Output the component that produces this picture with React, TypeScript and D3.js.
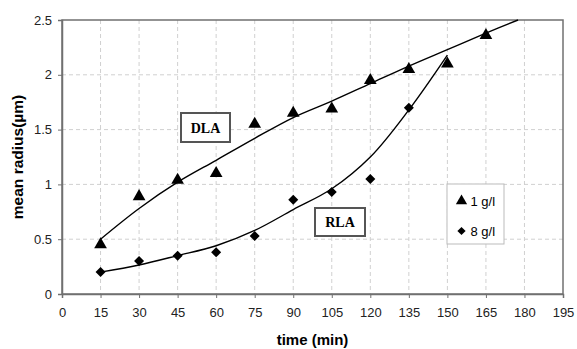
import React, { useEffect, useRef } from 'react';
import * as d3 from 'd3';

// measured points
const times = [15, 30, 45, 60, 75, 90, 105, 120, 135, 150, 165];
const low = [0.45, 0.89, 1.04, 1.1, 1.55, 1.65, 1.69, 1.95, 2.05, 2.1, 2.36]; // 1 g/l
const highTimes = [15, 30, 45, 60, 75, 90, 105, 120, 135];
const high = [0.2, 0.3, 0.35, 0.38, 0.53, 0.86, 0.93, 1.05, 1.7]; // 8 g/l

// fitted curves
const dlaTimes = [15, 30, 45, 60, 75, 90, 105, 120, 135, 150, 165, 177.5];
const dlaValues = [0.5, 0.78, 1.02, 1.22, 1.42, 1.61, 1.76, 1.92, 2.08, 2.23, 2.38, 2.5];
const rlaTimes = [15, 30, 45, 60, 75, 90, 105, 120, 135, 150];
const rlaValues = [0.2, 0.265, 0.35, 0.44, 0.58, 0.77, 0.96, 1.25, 1.68, 2.18];

const xTicks = d3.range(0, 196, 15);
const yTicks = [0, 0.5, 1, 1.5, 2, 2.5];
const legendLabels = ['1 g/l', '8 g/l'];

const App: React.FC = () => {
  const svgRef = useRef<SVGSVGElement>(null);

  useEffect(() => {
    if (!svgRef.current) return;
    const svg = d3.select(svgRef.current);
    svg.selectAll('*').remove();

    const left = 62;
    const right = 563;
    const top = 20;
    const bottom = 294;

    const x = d3.scaleLinear().domain([0, 195]).range([left, right]);
    const y = d3.scaleLinear().domain([0, 2.5]).range([bottom, top]);

    const font = 'Liberation Sans, Arial, sans-serif';

    // grid
    svg.append('g')
      .selectAll('line')
      .data(xTicks.slice(1, -1))
      .enter()
      .append('line')
      .attr('x1', (d) => x(d))
      .attr('x2', (d) => x(d))
      .attr('y1', top)
      .attr('y2', bottom)
      .attr('stroke', '#d0d0d0')
      .attr('stroke-dasharray', '4,3');

    svg.append('g')
      .selectAll('line')
      .data(yTicks.slice(1, -1))
      .enter()
      .append('line')
      .attr('x1', left)
      .attr('x2', right)
      .attr('y1', (d) => y(d))
      .attr('y2', (d) => y(d))
      .attr('stroke', '#d0d0d0')
      .attr('stroke-dasharray', '4,3');

    // frame
    svg.append('rect')
      .attr('x', left)
      .attr('y', top)
      .attr('width', right - left)
      .attr('height', bottom - top)
      .attr('fill', 'none')
      .attr('stroke', '#707070')
      .attr('stroke-width', 1.5);

    // axes
    const xAxis = svg.append('g')
      .attr('transform', `translate(0,${bottom})`)
      .call(d3.axisBottom(x).tickValues(xTicks).tickSize(4).tickPadding(10).tickFormat(d3.format('d')));
    const yAxis = svg.append('g')
      .attr('transform', `translate(${left},0)`)
      .call(d3.axisLeft(y).tickValues(yTicks).tickSize(4).tickPadding(6).tickFormat((d) => String(d)));

    [xAxis, yAxis].forEach((a) => {
      a.select('.domain').attr('stroke', '#707070').attr('stroke-width', 1.5);
      a.selectAll('.tick line').attr('stroke', '#707070');
      a.selectAll('.tick text')
        .attr('font-family', font)
        .attr('font-size', '13px')
        .attr('fill', '#222');
    });

    // fitted curves
    const line = d3.line<[number, number]>()
      .x((d) => x(d[0]))
      .y((d) => y(d[1]))
      .curve(d3.curveCatmullRom.alpha(0.5));

    svg.append('path')
      .attr('d', line(dlaTimes.map((t, i) => [t, dlaValues[i]] as [number, number])) || '')
      .attr('fill', 'none')
      .attr('stroke', '#000')
      .attr('stroke-width', 1.4);

    svg.append('path')
      .attr('d', line(rlaTimes.map((t, i) => [t, rlaValues[i]] as [number, number])) || '')
      .attr('fill', 'none')
      .attr('stroke', '#000')
      .attr('stroke-width', 1.4);

    // markers
    const tri = d3.symbol().type(d3.symbolTriangle).size(70);
    const dia = d3.symbol().type(d3.symbolSquare).size(50);

    svg.append('g')
      .selectAll('path')
      .data(times)
      .enter()
      .append('path')
      .attr('d', tri() || '')
      .attr('transform', (d, i) => `translate(${x(d)},${y(low[i])})`)
      .attr('fill', '#000');

    svg.append('g')
      .selectAll('path')
      .data(highTimes)
      .enter()
      .append('path')
      .attr('d', dia() || '')
      .attr('transform', (d, i) => `translate(${x(d)},${y(high[i])}) rotate(45)`)
      .attr('fill', '#000');

    // labels on curves
    const labelBox = (x0: number, y0: number, w: number, h: number, text: string) => {
      svg.append('rect')
        .attr('x', x0)
        .attr('y', y0)
        .attr('width', w)
        .attr('height', h)
        .attr('fill', '#fff')
        .attr('stroke', '#555')
        .attr('stroke-width', 2);
      svg.append('text')
        .attr('x', x0 + w / 2)
        .attr('y', y0 + h / 2 + 5)
        .attr('text-anchor', 'middle')
        .attr('font-family', 'Liberation Serif, Times New Roman, serif')
        .attr('font-weight', 'bold')
        .attr('font-size', '14px')
        .attr('fill', '#000')
        .text(text);
    };
    labelBox(181, 113, 49, 29, 'DLA');
    labelBox(315, 208, 50, 28, 'RLA');

    // legend
    const legend = svg.append('g').attr('transform', 'translate(447,184)');
    legend.append('rect')
      .attr('width', 57)
      .attr('height', 60)
      .attr('fill', '#fff')
      .attr('stroke', '#bbb');
    legendLabels.forEach((label, i) => {
      const row = legend.append('g').attr('transform', `translate(0,${17 + i * 30})`);
      row.append('path')
        .attr('d', i === 0
          ? d3.symbol().type(d3.symbolTriangle).size(55)() || ''
          : d3.symbol().type(d3.symbolSquare).size(34)() || '')
        .attr('transform', i === 0 ? 'translate(14.5,0)' : 'translate(14.5,0) rotate(45)')
        .attr('fill', '#000');
      row.append('text')
        .attr('x', 23.5)
        .attr('y', 5)
        .attr('font-family', font)
        .attr('font-size', '13px')
        .attr('fill', '#000')
        .text(label);
    });

    // axis titles
    svg.append('text')
      .attr('x', (left + right) / 2)
      .attr('y', 345)
      .attr('text-anchor', 'middle')
      .attr('font-family', font)
      .attr('font-weight', 'bold')
      .attr('font-size', '15px')
      .attr('fill', '#000')
      .text('time (min)');

    svg.append('text')
      .attr('transform', `translate(23,157) rotate(-90)`)
      .attr('text-anchor', 'middle')
      .attr('font-family', font)
      .attr('font-weight', 'bold')
      .attr('font-size', '15.5px')
      .attr('fill', '#000')
      .text('mean radius(µm)');
  }, []);

  return (
    <svg
      ref={svgRef}
      width={577}
      height={349}
      style={{ position: 'absolute', left: 0, top: 0, background: '#fff' }}
    />
  );
};

export default App;
